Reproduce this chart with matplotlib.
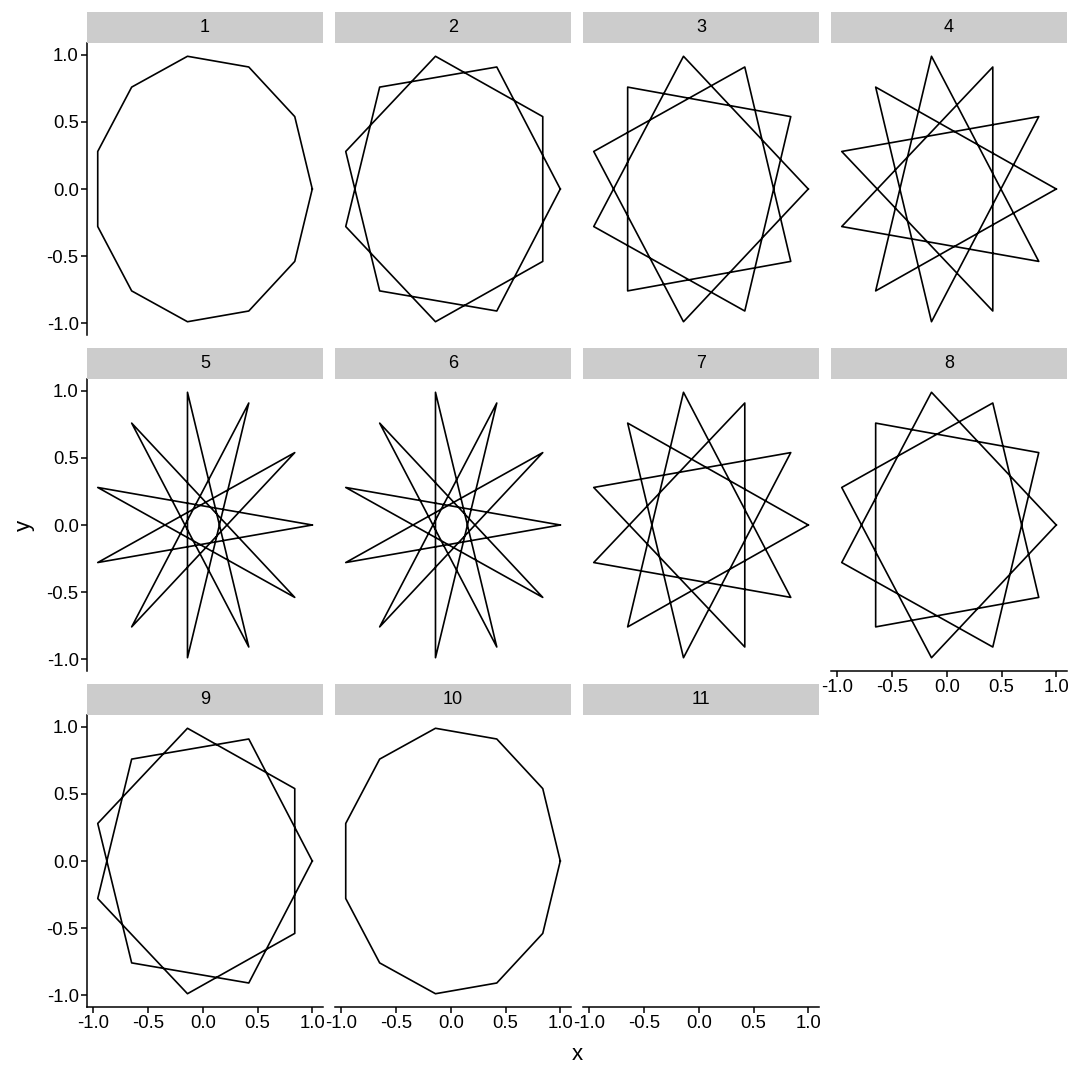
import matplotlib
matplotlib.use("Agg")
import matplotlib.pyplot as plt

plt.rcParams["font.family"] = ["Liberation Sans", "DejaVu Sans"]

# vertices of the 11-gon
vx = [1.00, 0.84, 0.42, -0.14, -0.65, -0.96, -0.96, -0.65, -0.14, 0.42, 0.84]
vy = [0.00, 0.54, 0.91, 0.99, 0.76, 0.28, -0.28, -0.76, -0.99, -0.91, -0.54]
steps = [1, 2, 3, 4, 5, 6, 7, 8, 9, 10, 11]
ticks = [-1.0, -0.5, 0.0, 0.5, 1.0]
tick_labels = ["-1.0", "-0.5", "0.0", "0.5", "1.0"]

W, H = 1080, 1080
fig = plt.figure(figsize=(W / 100, H / 100), dpi=100)

col_left = [87, 335, 583, 831]
panel_w = 236
row_strip = [12, 348, 684]
strip_h = 31
panel_h = 292

xlim = (-1.058, 1.098)
ylim = (-1.089, 1.089)

n = len(vx)
for i, k in enumerate(steps):
    r, c = divmod(i, 4)
    x0 = col_left[c]
    top = row_strip[r] + strip_h
    ax = fig.add_axes([x0 / W, 1 - (top + panel_h) / H, panel_w / W, panel_h / H])

    order = [(j * k) % n for j in range(n + 1)]
    ax.plot([vx[j] for j in order], [vy[j] for j in order], color="black", lw=1.2)
    ax.set_xlim(*xlim)
    ax.set_ylim(*ylim)

    for s in ["top", "right"]:
        ax.spines[s].set_visible(False)
    is_left = c == 0
    is_bottom = i + 4 >= len(steps)
    ax.spines["left"].set_visible(is_left)
    ax.spines["bottom"].set_visible(is_bottom)
    ax.spines["left"].set_linewidth(1.1)
    ax.spines["bottom"].set_linewidth(1.1)

    ax.set_xticks(ticks)
    ax.set_yticks(ticks)
    ax.tick_params(direction="out", length=4, width=1.1, labelsize=13.3,
                   colors="black", pad=2)
    if is_left:
        ax.set_yticklabels(tick_labels)
    else:
        ax.tick_params(axis="y", left=False, labelleft=False)
    if is_bottom:
        ax.set_xticklabels(tick_labels)
    else:
        ax.tick_params(axis="x", bottom=False, labelbottom=False)

    # strip
    sax = fig.add_axes([x0 / W, 1 - top / H, panel_w / W, strip_h / H])
    sax.set_facecolor("#cccccc")
    sax.set_xticks([])
    sax.set_yticks([])
    for s in sax.spines.values():
        s.set_visible(False)
    sax.text(0.5, 0.5, str(k), ha="center", va="center", fontsize=13,
             transform=sax.transAxes)

fig.text(577 / W, 1 - 1055 / H, "x", ha="center", va="center", fontsize=16)
fig.text(24 / W, 1 - 525 / H, "y", ha="center", va="center", fontsize=16,
         rotation=90)

fig.savefig("out.png", dpi=100)
